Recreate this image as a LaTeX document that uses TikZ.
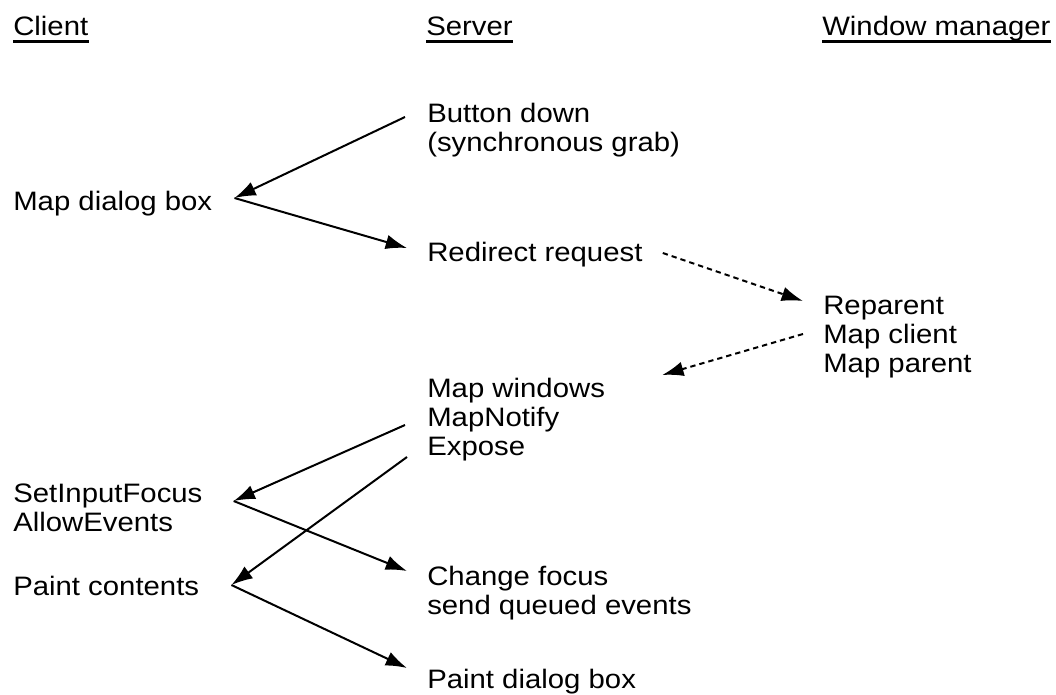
\documentclass[tikz,border=0pt]{standalone}
\usepackage{fontspec}
\setmainfont{Liberation Sans}[FakeStretch=1.1]
\usetikzlibrary{arrows.meta}

\tikzset{
    lbl/.style={anchor=base west, inner sep=0pt, align=left, font=\fontsize{20}{21.4}\selectfont},
    msg/.style={line width=1.5pt, -{Latex[length=16pt,width=11pt]}},
    redir/.style={msg, dash pattern=on 4pt off 3pt},
}

\begin{document}
\begin{tikzpicture}[x=0.75pt, y=-0.75pt]

    \useasboundingbox (0,0) rectangle (1056,695);

    % Column headings
    \node[lbl] (client) at (13,36) {Client};
    \node[lbl] (server) at (426,36) {Server};
    \node[lbl] (wm) at (822,36) {Window manager};
    \foreach \h in {client, server, wm}
        \draw[line width=1.9pt] ([yshift=-4pt]\h.base west) -- ([yshift=-4pt]\h.base east);

    % Client side
    \node[lbl] (mapdlg) at (13,211) {Map dialog box};
    \node[lbl] (focus) at (13,531.5) {SetInputFocus\\AllowEvents};
    \node[lbl] (paint) at (13,595) {Paint contents};

    % Server side
    \node[lbl] (button) at (427,151.5) {Button down\\(synchronous grab)};
    \node[lbl] (redirect) at (427,262) {Redirect request};
    \node[lbl] (mapwin) at (427,455) {Map windows\\MapNotify\\Expose};
    \node[lbl] (change) at (427,614.5) {Change focus\\send queued events};
    \node[lbl] (paintdlg) at (427,688) {Paint dialog box};

    % Window manager side
    \node[lbl] (reparent) at (823,372) {Reparent\\Map client\\Map parent};

    % Requests and events
    \draw[msg] ([shift={(-22,-34.5)}]button.base west) -- ([shift={(22,-13)}]mapdlg.base east);
    \draw[msg] ([shift={(22,-13)}]mapdlg.base east) -- ([shift={(-20,-14)}]redirect.base west);
    \draw[redir] ([shift={(20,-9)}]redirect.base east) -- ([shift={(-20,-71)}]reparent.base west);
    \draw[redir] ([shift={(-20,-38)}]reparent.base west) -- ([shift={(57,-80)}]mapwin.base east);
    \draw[msg] ([shift={(-22,-30)}]mapwin.base west) -- ([shift={(31,-30.5)}]focus.base east);
    \draw[msg] ([shift={(-20,2)}]mapwin.base west) -- ([shift={(32,-10)}]paint.base east);
    \draw[msg] ([shift={(31,-30.5)}]focus.base east) -- ([shift={(-20,-43.5)}]change.base west);
    \draw[msg] ([shift={(32,-10)}]paint.base east) -- ([shift={(-20,-20)}]paintdlg.base west);

\end{tikzpicture}
\end{document}
